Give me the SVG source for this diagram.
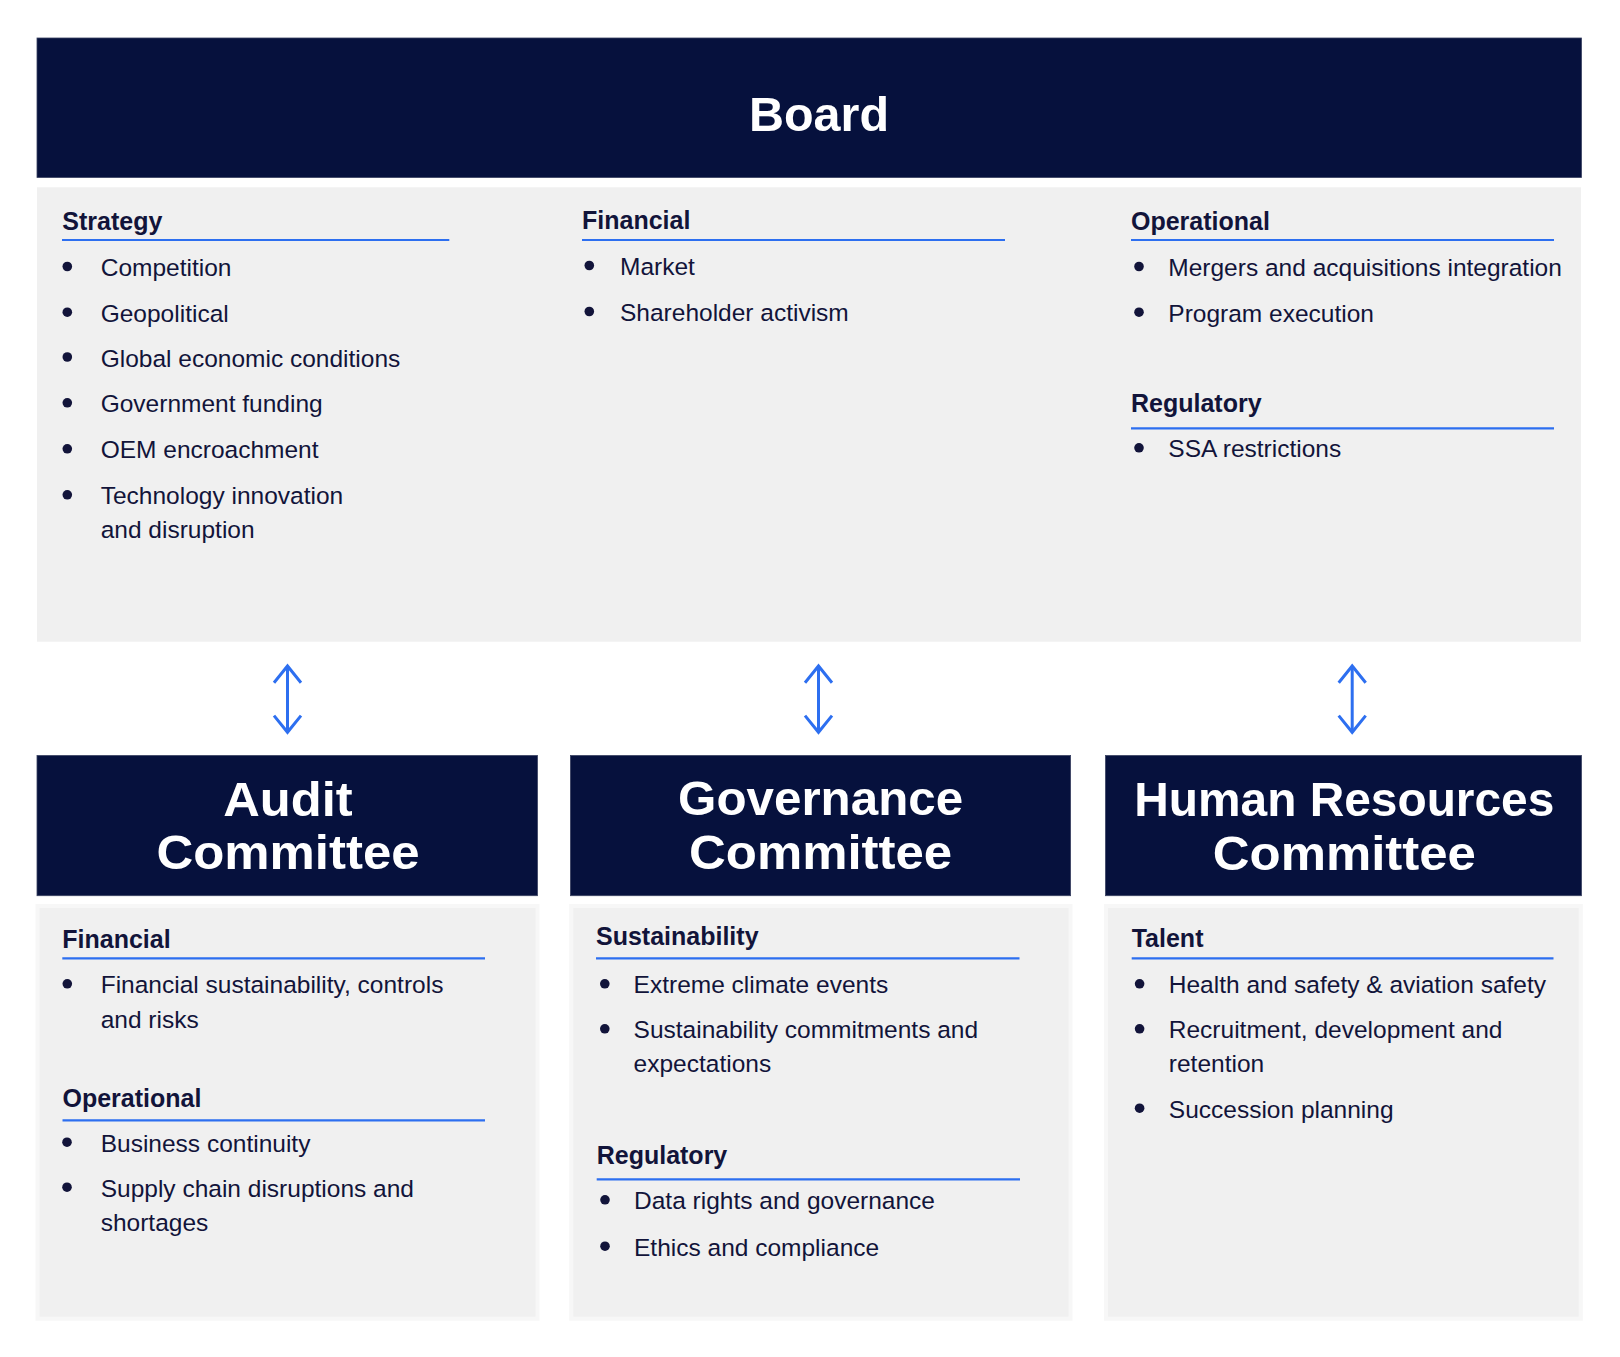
<svg xmlns="http://www.w3.org/2000/svg" width="1620" height="1357" viewBox="0 0 1620 1357">
  <style>
    .hdr { fill: #06113d; stroke: #3a4262; stroke-width: 0.8; }
    .panel { fill: #f0f0f0; }
    .lpanel { fill: #f0f0f0; stroke: #f7f7f7; stroke-width: 4; }
    .title { font-family: "Liberation Sans", Arial, sans-serif; font-weight: bold; font-size: 49px; fill: #ffffff; text-anchor: middle; }
    .head { font-family: "Liberation Sans", Arial, sans-serif; font-weight: bold; font-size: 25px; fill: #12143a; }
    .item { font-family: "Liberation Sans", Arial, sans-serif; font-size: 24.5px; fill: #12143a; }
    .rule { stroke: #2d6ff0; stroke-width: 2.2; }
    .dot { fill: #12143a; }
    .conn { stroke: #2d6ff0; stroke-width: 3; fill: none; }
  </style>
  <defs>
    <marker id="chev" markerUnits="userSpaceOnUse" markerWidth="40" markerHeight="40" refX="0" refY="0" viewBox="-20 -20 40 40" orient="auto-start-reverse" overflow="visible">
      <path d="M -16.7 -13.5 L 0 0 L -16.7 13.5" fill="none" stroke="#2d6ff0" stroke-width="3"/>
    </marker>
  </defs>
  <rect width="1620" height="1357" fill="#ffffff"/>

  <g id="board">
    <rect class="hdr" x="37" y="38" width="1544.5" height="139.5"/>
    <text class="title" x="819" y="130.7" textLength="140" lengthAdjust="spacingAndGlyphs">Board</text>
    <rect class="panel" x="37" y="187.3" width="1544" height="454.4"/>
    <g id="board-strategy">
      <text class="head" x="62.3" y="230">Strategy</text>
      <line class="rule" x1="62" y1="240" x2="449.3" y2="240"/>
      <circle class="dot" cx="67.3" cy="266.5" r="4.8"/>
      <text class="item" x="100.7" y="276">Competition</text>
      <circle class="dot" cx="67.3" cy="312.2" r="4.8"/>
      <text class="item" x="100.7" y="321.7">Geopolitical</text>
      <circle class="dot" cx="67.3" cy="357" r="4.8"/>
      <text class="item" x="100.7" y="366.5">Global economic conditions</text>
      <circle class="dot" cx="67.3" cy="402.8" r="4.8"/>
      <text class="item" x="100.7" y="412.3">Government funding</text>
      <circle class="dot" cx="67.3" cy="448.8" r="4.8"/>
      <text class="item" x="100.7" y="458.3">OEM encroachment</text>
      <circle class="dot" cx="67.3" cy="494.8" r="4.8"/>
      <text class="item" x="100.7" y="504.3">Technology innovation</text>
      <text class="item" x="100.7" y="537.7">and disruption</text>
    </g>
    <g id="board-financial">
      <text class="head" x="582" y="229.3">Financial</text>
      <line class="rule" x1="582" y1="240" x2="1005" y2="240"/>
      <circle class="dot" cx="589.3" cy="265.5" r="4.8"/>
      <text class="item" x="620" y="275">Market</text>
      <circle class="dot" cx="589.3" cy="311.5" r="4.8"/>
      <text class="item" x="620" y="321">Shareholder activism</text>
    </g>
    <g id="board-operational">
      <text class="head" x="1131" y="230">Operational</text>
      <line class="rule" x1="1131" y1="240" x2="1554" y2="240"/>
      <circle class="dot" cx="1139" cy="266.5" r="4.8"/>
      <text class="item" x="1168.3" y="276">Mergers and acquisitions integration</text>
      <circle class="dot" cx="1139" cy="312.2" r="4.8"/>
      <text class="item" x="1168.3" y="321.7">Program execution</text>
    </g>
    <g id="board-regulatory">
      <text class="head" x="1131" y="411.7">Regulatory</text>
      <line class="rule" x1="1131" y1="428.3" x2="1554" y2="428.3"/>
      <circle class="dot" cx="1139" cy="447.8" r="4.8"/>
      <text class="item" x="1168.3" y="457.3">SSA restrictions</text>
    </g>
  </g>

  <g id="connectors">
    <line class="conn" x1="287.5" y1="666" x2="287.5" y2="732.3" marker-start="url(#chev)" marker-end="url(#chev)"/>
    <line class="conn" x1="818.5" y1="666" x2="818.5" y2="732.3" marker-start="url(#chev)" marker-end="url(#chev)"/>
    <line class="conn" x1="1352.2" y1="666" x2="1352.2" y2="732.3" marker-start="url(#chev)" marker-end="url(#chev)"/>
  </g>

  <g id="audit">
    <rect class="hdr" x="37" y="755.5" width="500.5" height="140.2"/>
    <text class="title" x="288" y="816" textLength="129.5" lengthAdjust="spacingAndGlyphs">Audit</text>
    <text class="title" x="288" y="869.3" textLength="263" lengthAdjust="spacingAndGlyphs">Committee</text>
    <rect class="lpanel" x="37.5" y="906" width="500" height="412.7"/>
    <text class="head" x="62.3" y="947.7">Financial</text>
    <line class="rule" x1="62.3" y1="958.3" x2="485" y2="958.3"/>
    <circle class="dot" cx="67.3" cy="983.8" r="4.8"/>
    <text class="item" x="100.7" y="993.3">Financial sustainability, controls</text>
    <text class="item" x="100.7" y="1027.7">and risks</text>
    <text class="head" x="62.5" y="1106.7">Operational</text>
    <line class="rule" x1="62.5" y1="1120.3" x2="485" y2="1120.3"/>
    <circle class="dot" cx="67" cy="1142.2" r="4.8"/>
    <text class="item" x="100.7" y="1151.7">Business continuity</text>
    <circle class="dot" cx="67" cy="1187.2" r="4.8"/>
    <text class="item" x="100.7" y="1196.7">Supply chain disruptions and</text>
    <text class="item" x="100.7" y="1231">shortages</text>
  </g>

  <g id="governance">
    <rect class="hdr" x="570.4" y="755.5" width="500.2" height="140.2"/>
    <text class="title" x="820.6" y="815" textLength="285" lengthAdjust="spacingAndGlyphs">Governance</text>
    <text class="title" x="820.6" y="869.3" textLength="263" lengthAdjust="spacingAndGlyphs">Committee</text>
    <rect class="lpanel" x="571.2" y="906" width="499.3" height="412.7"/>
    <text class="head" x="596" y="945">Sustainability</text>
    <line class="rule" x1="596" y1="958.3" x2="1019.5" y2="958.3"/>
    <circle class="dot" cx="604.8" cy="983.8" r="4.8"/>
    <text class="item" x="633.6" y="993.3">Extreme climate events</text>
    <circle class="dot" cx="604.8" cy="1028.8" r="4.8"/>
    <text class="item" x="633.6" y="1038.3">Sustainability commitments and</text>
    <text class="item" x="633.6" y="1071.7">expectations</text>
    <text class="head" x="596.7" y="1164">Regulatory</text>
    <line class="rule" x1="596.7" y1="1179.3" x2="1020" y2="1179.3"/>
    <circle class="dot" cx="605" cy="1199.8" r="4.8"/>
    <text class="item" x="634" y="1209.3">Data rights and governance</text>
    <circle class="dot" cx="605" cy="1246.2" r="4.8"/>
    <text class="item" x="634" y="1255.7">Ethics and compliance</text>
  </g>

  <g id="human-resources">
    <rect class="hdr" x="1105.5" y="755.5" width="476" height="140.2"/>
    <text class="title" x="1344.3" y="816" textLength="420" lengthAdjust="spacingAndGlyphs">Human Resources</text>
    <text class="title" x="1344.3" y="870" textLength="263" lengthAdjust="spacingAndGlyphs">Committee</text>
    <rect class="lpanel" x="1106" y="906" width="474.8" height="412.7"/>
    <text class="head" x="1131.7" y="946.7">Talent</text>
    <line class="rule" x1="1131.7" y1="958.3" x2="1553.5" y2="958.3"/>
    <circle class="dot" cx="1139.6" cy="983.8" r="4.8"/>
    <text class="item" x="1168.8" y="993.3">Health and safety &amp; aviation safety</text>
    <circle class="dot" cx="1139.6" cy="1028.8" r="4.8"/>
    <text class="item" x="1168.8" y="1038.3">Recruitment, development and</text>
    <text class="item" x="1168.8" y="1071.7">retention</text>
    <circle class="dot" cx="1139.6" cy="1108.2" r="4.8"/>
    <text class="item" x="1168.8" y="1117.7">Succession planning</text>
  </g>
</svg>
